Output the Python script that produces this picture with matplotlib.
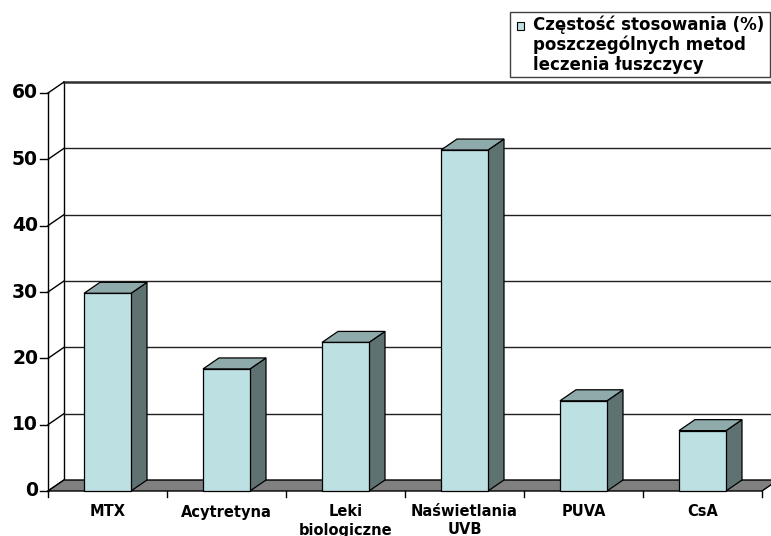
import matplotlib
matplotlib.use("Agg")
import matplotlib.pyplot as plt
from matplotlib.patches import Polygon, Rectangle

# Data
categories = ["MTX", "Acytretyna", "Leki\nbiologiczne", "Naświetlania\nUVB", "PUVA", "CsA"]
values = [29.8, 18.4, 22.4, 51.4, 13.6, 9.1]
y_ticks = [0, 10, 20, 30, 40, 50, 60]
legend_label = "Częstość stosowania (%)\nposzczególnych metod\nleczenia łuszczycy"

# Styling
FRONT = "#bde0e3"
TOP = "#8eaaab"
SIDE = "#5e7272"
FLOOR = "#808080"
FONT = "DejaVu Sans"

W, H = 771, 536
fig = plt.figure(figsize=(W / 100, H / 100), dpi=100)
fig.patch.set_facecolor("white")

# front plane of the plot, in pixels
x_left, x_right = 48, 762
y_bottom, y_top = 491, 93
ax = fig.add_axes([x_left / W, 1 - y_bottom / H, (x_right - x_left) / W, (y_bottom - y_top) / H])
ax.set_xlim(0, len(categories))
ax.set_ylim(0, 60)
ax.axis("off")

px_x = (x_right - x_left) / len(categories)
px_y = (y_bottom - y_top) / 60.0
dx = 16 / px_x      # depth offset, horizontal
dy = 11 / px_y      # depth offset, vertical
n = len(categories)

# back wall: vertical edge and gridlines
ax.plot([dx, dx], [dy, 60 + dy], color="black", lw=1.0, clip_on=False, zorder=1)
for v in y_ticks[1:]:
    lw = 1.8 if v == 60 else 1.0
    col = "#303030" if v == 60 else "#202020"
    ax.plot([dx, n + dx], [v + dy, v + dy], color=col, lw=lw, clip_on=False, zorder=1)
# side wall diagonals from the value axis
for v in y_ticks:
    ax.plot([0, dx], [v, v + dy], color="black", lw=1.0, clip_on=False, zorder=1)
# value axis and ticks
ax.plot([0, 0], [0, 60], color="black", lw=1.0, clip_on=False, zorder=3)
tick_len = 8 / px_x
for v in y_ticks:
    ax.plot([-tick_len, 0], [v, v], color="black", lw=1.0, clip_on=False, zorder=3)
    ax.text(-10 / px_x, v, str(v), ha="right", va="center", fontsize=13.5,
            fontweight="bold", family=FONT, color="black")

# floor
ax.add_patch(Polygon([(0, 0), (n, 0), (n + dx, dy), (dx, dy)], closed=True,
                     facecolor=FLOOR, edgecolor="black", lw=1.0, clip_on=False, zorder=2))

# category ticks and labels (one text per line, placed by baseline)
for i in range(n + 1):
    ax.plot([i, i], [0, -6 / px_y], color="black", lw=1.0, clip_on=False, zorder=3)
label_baselines = [516.5, 534.5]
bw = 47 / px_x
for i, (cat, v) in enumerate(zip(categories, values)):
    c = i + 0.5
    x0, x1 = c - bw / 2, c + bw / 2
    for line, base in zip(cat.split("\n"), label_baselines):
        ax.text(c, -(base - y_bottom) / px_y, line, ha="center", va="baseline",
                fontsize=10.5, fontweight="bold", family=FONT, color="black")
    # side face
    ax.add_patch(Polygon([(x1, 0), (x1 + dx, dy), (x1 + dx, v + dy), (x1, v)], closed=True,
                         facecolor=SIDE, edgecolor="black", lw=0.9, clip_on=False, zorder=4))
    # top face
    ax.add_patch(Polygon([(x0, v), (x1, v), (x1 + dx, v + dy), (x0 + dx, v + dy)], closed=True,
                         facecolor=TOP, edgecolor="black", lw=0.9, clip_on=False, zorder=4))
    # front face
    ax.add_patch(Rectangle((x0, 0), bw, v, facecolor=FRONT, edgecolor="black",
                           lw=0.9, clip_on=False, zorder=5))


def fig_xy(px, py):
    return px / W, 1 - py / H


# legend box
lx0, ly0, lx1, ly1 = 509.5, 12.5, 770, 77
fig.add_artist(Rectangle(fig_xy(lx0, ly1), (lx1 - lx0) / W, (ly1 - ly0) / H,
                         transform=fig.transFigure, facecolor="white",
                         edgecolor="#404040", lw=1.0, zorder=10))
fig.add_artist(Rectangle(fig_xy(516.5, 29.5), 7 / W, 7 / H, transform=fig.transFigure,
                         facecolor=FRONT, edgecolor="black", lw=0.8, zorder=11))
for line, base in zip(legend_label.split("\n"), [30, 50, 70]):
    fx, fy = fig_xy(533, base)
    fig.text(fx, fy, line, ha="left", va="baseline", fontsize=12,
             fontweight="bold", family=FONT, color="black", zorder=12)

fig.savefig("out.png", dpi=100, facecolor="white")
